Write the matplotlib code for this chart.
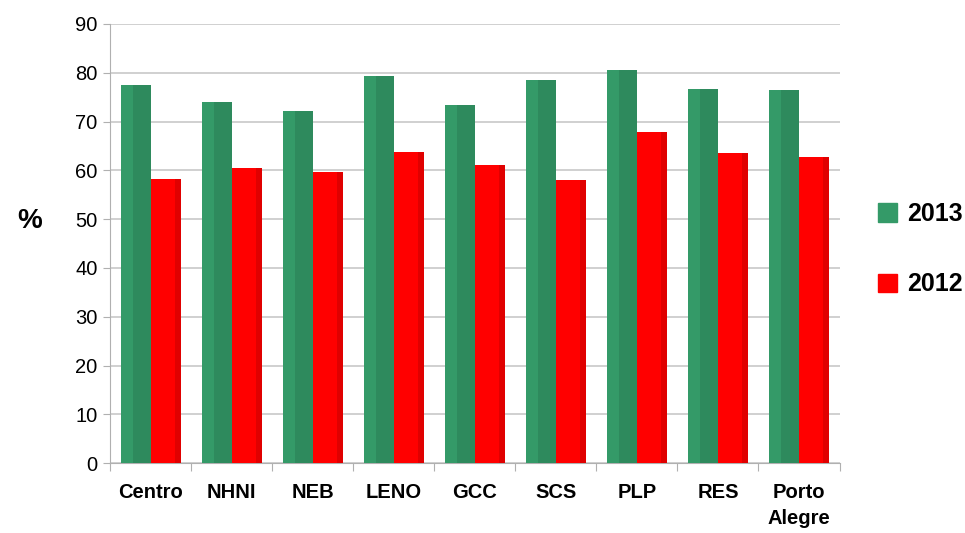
import matplotlib.pyplot as plt
import numpy as np

plt.rcParams['font.family'] = ['Liberation Sans', 'DejaVu Sans']

# --- Datos ---
categorias = ['Centro', 'NHNI', 'NEB', 'LENO', 'GCC', 'SCS', 'PLP', 'RES', 'Porto\nAlegre']
valores_2013 = [77.5, 74.0, 72.2, 79.3, 73.4, 78.5, 80.6, 76.7, 76.5]
valores_2012 = [58.2, 60.5, 59.7, 63.8, 61.1, 58.0, 67.9, 63.5, 62.7]
ticks_y = [0, 10, 20, 30, 40, 50, 60, 70, 80, 90]

verde, verde_osc = '#349a68', '#2e8a5d'
rojo, rojo_osc = '#ff0000', '#e00000'

fig = plt.figure(figsize=(9.65, 5.33), dpi=100)
ax = fig.add_axes([0.114, 0.131, 0.756, 0.824])

x = np.arange(len(categorias))
ancho = 0.37

# barras con una franja mas oscura a la derecha (efecto 3D)
ax.bar(x - ancho / 2, valores_2013, ancho, color=verde, zorder=3)
ax.bar(x - ancho / 2 + ancho * 0.2, valores_2013, ancho * 0.6, color=verde_osc, zorder=3)
ax.bar(x + ancho / 2, valores_2012, ancho, color=rojo, zorder=3)
ax.bar(x + ancho / 2 + ancho * 0.25, valores_2012, ancho * 0.5, color=rojo_osc, zorder=3)
ax.bar(x + ancho / 2 + ancho * 0.05, valores_2012, ancho * 0.5, color=rojo, zorder=3)

ax.set_xlim(-0.5, len(categorias) - 0.5)
ax.set_ylim(0, 90)
ax.set_yticks(ticks_y)
ax.set_yticklabels([str(t) for t in ticks_y], fontsize=14.5)
ax.grid(axis='y', color='#c8c8c8', linewidth=1.2, zorder=0)

# ticks en los limites de las categorias
ax.set_xticks(np.arange(len(categorias) + 1) - 0.5)
ax.set_xticklabels([])
ax.set_xticks(x, minor=True)
ax.set_xticklabels(categorias, minor=True, fontsize=14.5, fontweight='bold', linespacing=1.5)
ax.tick_params(axis='x', which='minor', length=0, pad=14)
ax.tick_params(axis='x', which='major', length=6, color='#b0b0b0')
ax.tick_params(axis='y', length=5, color='#b0b0b0', pad=4)

for lado in ['top', 'right']:
    ax.spines[lado].set_visible(False)
for lado in ['left', 'bottom']:
    ax.spines[lado].set_color('#b0b0b0')

fig.text(0.031, 0.585, '%', fontsize=20, fontweight='bold', ha='center', va='center')

# leyenda
leg = ax.legend([plt.Rectangle((0, 0), 1, 1, color=verde), plt.Rectangle((0, 0), 1, 1, color=rojo)],
                ['2013', '2012'], loc='center left', bbox_to_anchor=(1.022, 0.487),
                frameon=False, prop={'size': 18, 'weight': 'bold'},
                handlelength=0.75, handleheight=0.75, labelspacing=1.85, handletextpad=0.4)

plt.savefig('out.png', dpi=100)
